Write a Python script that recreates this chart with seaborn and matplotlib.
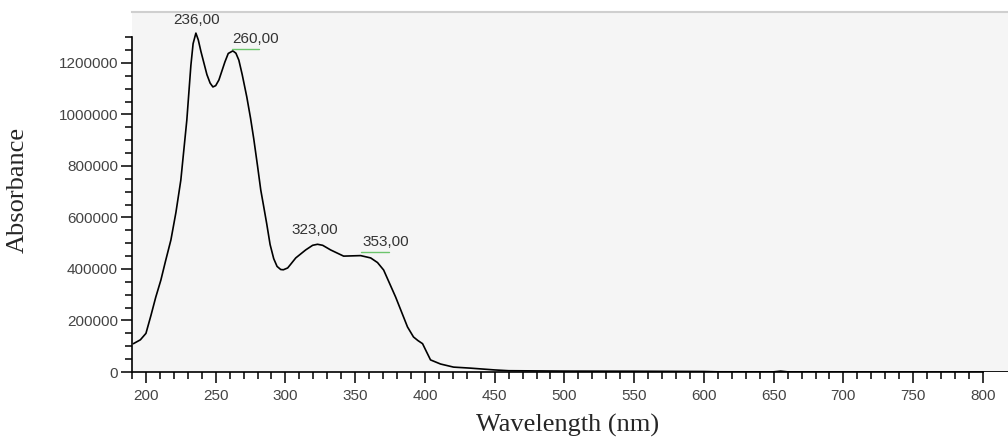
import numpy as np
import matplotlib
matplotlib.use("Agg")
import matplotlib.pyplot as plt
import seaborn as sns

# spectrum (nm, absorbance)
wavelength = [191, 196, 200, 203.6, 207, 210.7, 214, 217.9, 221.5, 225, 229.3, 232.2,
              233.8, 235.8, 237.5, 239.4, 243.7, 246, 248, 250, 252.3, 256.6, 259,
              262.3, 264.5, 266.6, 269, 272.3, 275, 277.3, 280, 282.3, 284.5, 286.6,
              289, 291.6, 294, 296.6, 298.5, 301.6, 304, 307.4, 314.5, 319.5, 323,
              326.7, 332.4, 341.7, 353.9, 361.1, 366, 370.4, 379, 387.5, 391.8, 395,
              398.3, 401, 404, 411.2, 420.5, 432.6, 450, 460, 500, 550, 600, 610,
              650, 655, 660, 700, 800, 818]
absorbance = [110000, 125000, 150000, 220000, 290000, 357000, 430000, 513000, 620000,
              745000, 978000, 1190000, 1275000, 1316000, 1290000, 1245000, 1155000,
              1122000, 1107000, 1112000, 1134000, 1204000, 1237000, 1247000, 1238000,
              1211000, 1155000, 1068000, 985000, 905000, 800000, 707000, 640000,
              575000, 495000, 440000, 410000, 398000, 397000, 404000, 420000, 443000,
              474000, 492000, 496000, 492000, 474000, 450000, 452000, 443000, 425000,
              396000, 291000, 175000, 136000, 122000, 110000, 80000, 47000, 31000,
              19000, 15000, 8000, 5000, 3500, 3000, 2000, 800, 600, 3500, 600, 300,
              200, 200]

peak_nm = [236, 260, 323, 353]
peak_text = ["236,00", "260,00", "323,00", "353,00"]

x_major = np.arange(200, 801, 50)
x_minor = np.arange(190, 801, 10)
y_major = np.arange(0, 1200001, 200000)
y_minor = np.arange(0, 1300001, 50000)

sns.set_style("ticks")
plt.rcParams["font.family"] = ["Liberation Sans", "DejaVu Sans"]

fig = plt.figure(figsize=(10.08, 4.46), dpi=100)
ax = fig.add_axes([132 / 1008, 1 - 372 / 446, 1 - 132 / 1008, 360 / 446])
ax.set_facecolor("#f5f5f5")

sns.lineplot(x=wavelength, y=absorbance, color="black", lw=1.2, ax=ax)

ax.set_xlim(190.7, 818)
ax.set_ylim(0, 1398000)

ax.set_xticks(x_major)
ax.set_xticks(x_minor, minor=True)
ax.set_yticks(y_major)
ax.set_yticks(y_minor, minor=True)
ax.ticklabel_format(axis="y", style="plain")

ax.tick_params(axis="both", which="major", length=8, width=1.1, color="black",
               labelsize=11, labelcolor="#444444", pad=2)
ax.tick_params(axis="both", which="minor", length=5, width=1.1, color="black")
ax.tick_params(axis="x", which="major", pad=4)

for s in ["left", "bottom"]:
    ax.spines[s].set_color("black")
    ax.spines[s].set_linewidth(1.2)
ax.spines["left"].set_bounds(0, 1300000)
ax.spines["bottom"].set_bounds(190.7, 800)
ax.spines["right"].set_visible(False)
ax.spines["top"].set_color("#cfcfcf")
ax.spines["top"].set_linewidth(1.5)

# peak labels
for nm, txt in zip(peak_nm, peak_text):
    yv = np.interp(nm, wavelength, absorbance)
    if txt in ("236,00", "323,00"):
        ax.annotate(txt, (nm, yv), xytext=(-2 if nm == 323 else 0, 5),
                    textcoords="offset points", ha="center", va="bottom",
                    fontsize=11, color="#333333")
    else:
        ax.annotate(txt, (nm, yv), xytext=(2, 5), textcoords="offset points",
                    ha="left", va="bottom", fontsize=11, color="#333333")
        ax.plot([nm + 1.5, nm + 21], [yv + 15000, yv + 15000], color="#6cc46c", lw=1)

fig.text(18 / 1008, 1 - 190 / 446, "Absorbance", rotation=90, ha="center", va="center",
         fontsize=19, family="Liberation Serif")
fig.text(568 / 1008, 1 - 425 / 446, "Wavelength (nm)", ha="center", va="center",
         fontsize=19, family="Liberation Serif")

fig.savefig("out.png", dpi=100, facecolor="white")
